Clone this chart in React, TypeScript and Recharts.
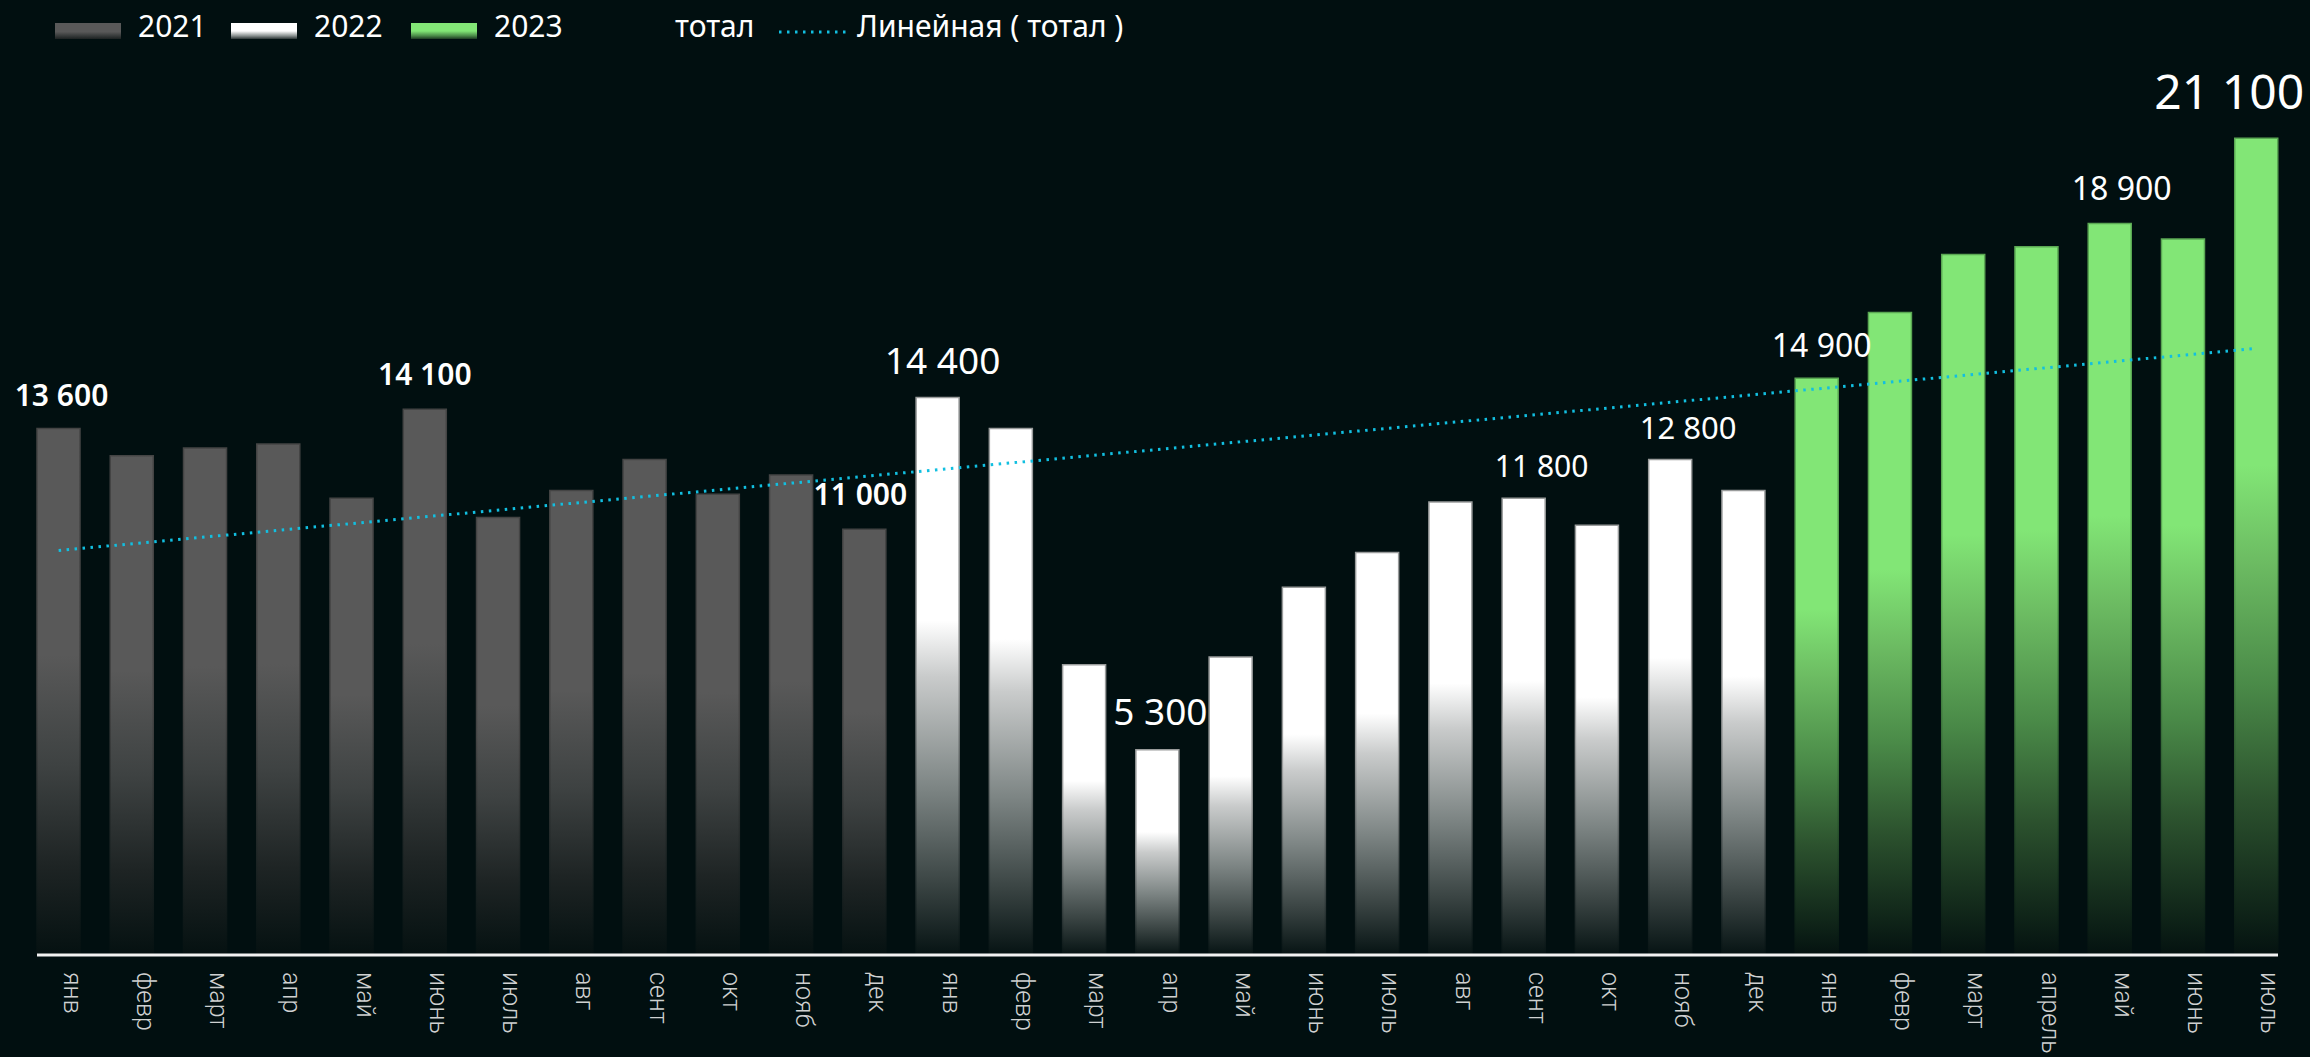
import React from 'react'
import { BarChart, Bar, XAxis, YAxis, ReferenceLine, LabelList } from 'recharts'

// monthly totals 2021–2023

const months2021 = ['янв', 'февр', 'март', 'апр', 'май', 'июнь', 'июль', 'авг', 'сент', 'окт', 'нояб', 'дек']
const months2022 = ['янв', 'февр', 'март', 'апр', 'май', 'июнь', 'июль', 'авг', 'сент', 'окт', 'нояб', 'дек']
const months2023 = ['янв', 'февр', 'март', 'апрель', 'май', 'июнь', 'июль']

const values2021 = [13600, 12900, 13100, 13200, 11800, 14100, 11300, 12000, 12800, 11900, 12400, 11000]
const values2022 = [14400, 13600, 7500, 5300, 7700, 9500, 10400, 11700, 11800, 11100, 12800, 12000]
const values2023 = [14900, 16600, 18100, 18300, 18900, 18500, 21100]

// linear trend of "тотал", value at the first and the last month
const trendValues = [10450, 15670]

type SeriesKey = 'v2021' | 'v2022' | 'v2023'
type Row = { key: string; month: string; v2021: number | null; v2022: number | null; v2023: number | null }

const rows: Row[] = [
  ...months2021.map((m, i) => ({ key: `2021-${i}`, month: m, v2021: values2021[i], v2022: null, v2023: null })),
  ...months2022.map((m, i) => ({ key: `2022-${i}`, month: m, v2021: null, v2022: values2022[i], v2023: null })),
  ...months2023.map((m, i) => ({ key: `2023-${i}`, month: m, v2021: null, v2022: null, v2023: values2023[i] })),
]

const monthByKey = new Map(rows.map((r) => [r.key, r.month]))

// first row of each series (label indices may come relative to the series)
const seriesStart: Record<SeriesKey, number> = {
  v2021: 0,
  v2022: values2021.length,
  v2023: values2021.length + values2022.length,
}

// which bars carry a value label, and how it is drawn
const labelStyles: Record<number, { size: number; weight: number; dx: number; gap: number }> = {
  0: { size: 30, weight: 600, dx: 3, gap: 23 },
  5: { size: 30, weight: 600, dx: 0, gap: 24 },
  11: { size: 30, weight: 600, dx: -4, gap: 24 },
  12: { size: 37, weight: 400, dx: 5, gap: 24 },
  15: { size: 37, weight: 400, dx: 3, gap: 25 },
  20: { size: 30, weight: 400, dx: 18, gap: 21 },
  22: { size: 31, weight: 400, dx: 18, gap: 21 },
  24: { size: 32, weight: 400, dx: 5, gap: 21 },
  28: { size: 32, weight: 400, dx: 12, gap: 23 },
  30: { size: 48, weight: 400, dx: -27, gap: 29 },
}

const BG = '#010f10'
const FONT = "'Noto Sans', 'Open Sans', sans-serif"

function formatValue(v: number): string {
  return String(v).replace(/\B(?=(\d{3})+(?!\d))/g, ' ')
}

const makeLabel = (seriesKey: SeriesKey) => (props: any) => {
  const { x, y, width, index } = props
  const gi = rows[index]?.[seriesKey] != null ? index : index + seriesStart[seriesKey]
  const row = rows[gi]
  const st = labelStyles[gi]
  if (!row || !st || row[seriesKey] == null) return null
  return (
    <text
      x={Number(x) + Number(width) / 2 + st.dx}
      y={Number(y) - st.gap}
      textAnchor="middle"
      fill="#ffffff"
      fontSize={st.size}
      fontWeight={st.weight}
      fontFamily={FONT}
    >
      {formatValue(row[seriesKey] as number)}
    </text>
  )
}

function MonthTick(props: any) {
  const { x, y, payload } = props
  const label = monthByKey.get(payload?.value) ?? ''
  return (
    <text
      transform={`translate(${x},${y + 9}) rotate(90)`}
      dy={-5}
      textAnchor="start"
      fill="#cfd1d1"
      fontSize={25}
      fontWeight={300}
      fontFamily="Roboto, 'Noto Sans', sans-serif"
    >
      {label}
    </text>
  )
}

function Swatch({ left, gradient }: { left: number; gradient: string }) {
  return (
    <div
      style={{ position: 'absolute', left, top: 23, width: 66, height: 16, background: gradient }}
    />
  )
}

function LegendText({ left, children }: { left: number; children: React.ReactNode }) {
  return (
    <div
      style={{
        position: 'absolute',
        left,
        top: 11,
        fontFamily: FONT,
        fontSize: 30,
        lineHeight: '30px',
        color: '#ffffff',
        whiteSpace: 'nowrap',
      }}
    >
      {children}
    </div>
  )
}

function TopLegend() {
  return (
    <div style={{ position: 'absolute', left: 0, top: 0, width: 1200, height: 60, zIndex: 2 }}>
      <Swatch left={55} gradient="linear-gradient(#595959 0%, #595959 55%, #1c2222 100%)" />
      <LegendText left={138}>2021</LegendText>
      <Swatch left={231} gradient="linear-gradient(#ffffff 0%, #ffffff 50%, #8a9190 80%, #2c3535 100%)" />
      <LegendText left={314}>2022</LegendText>
      <Swatch left={411} gradient="linear-gradient(#82e676 0%, #82e676 50%, #4a8a48 80%, #1d3a22 100%)" />
      <LegendText left={494}>2023</LegendText>
      <LegendText left={675}>тотал</LegendText>
      <svg style={{ position: 'absolute', left: 779, top: 28 }} width={70} height={8}>
        <line x1={0} y1={4} x2={70} y2={4} stroke="#12bfe0" strokeWidth={3} strokeDasharray="2.5 5.5" />
      </svg>
      <LegendText left={857}>Линейная ( тотал )</LegendText>
    </div>
  )
}

export default function App() {
  const first = rows[0].key
  const last = rows[rows.length - 1].key
  return (
    <div
      style={{
        position: 'fixed',
        left: 0,
        top: 0,
        width: 2310,
        height: 1057,
        background: BG,
        overflow: 'hidden',
      }}
    >
      <TopLegend />
      <div style={{ position: 'absolute', left: 0, top: 0 }}>
        <BarChart
          width={2310}
          height={1057}
          data={rows}
          margin={{ top: 26, right: 32, bottom: 0, left: 37 }}
        >
          <defs>
            <linearGradient id="g2021" x1="0" y1="0" x2="0" y2="1">
              <stop offset="0" stopColor="#595959" />
              <stop offset="0.43" stopColor="#595959" />
              <stop offset="0.64" stopColor="#3e4242" />
              <stop offset="0.83" stopColor="#1e2424" />
              <stop offset="1" stopColor="#051111" />
            </linearGradient>
            <linearGradient id="g2022" x1="0" y1="0" x2="0" y2="1">
              <stop offset="0" stopColor="#ffffff" />
              <stop offset="0.4" stopColor="#ffffff" />
              <stop offset="0.5" stopColor="#c9cbcb" />
              <stop offset="0.7" stopColor="#7d8584" />
              <stop offset="0.87" stopColor="#3b4544" />
              <stop offset="1" stopColor="#061313" />
            </linearGradient>
            <linearGradient id="g2023" x1="0" y1="0" x2="0" y2="1">
              <stop offset="0" stopColor="#82e676" />
              <stop offset="0.4" stopColor="#82e676" />
              <stop offset="0.52" stopColor="#6cbb62" />
              <stop offset="0.67" stopColor="#4a8a48" />
              <stop offset="0.81" stopColor="#2c522e" />
              <stop offset="1" stopColor="#041210" />
            </linearGradient>
            <linearGradient id="s2021" x1="0" y1="0" x2="0" y2="1">
              <stop offset="0" stopColor="#444444" />
              <stop offset="0.5" stopColor="#444444" />
              <stop offset="1" stopColor="#051111" />
            </linearGradient>
            <linearGradient id="s2022" x1="0" y1="0" x2="0" y2="1">
              <stop offset="0" stopColor="#9a9c9c" />
              <stop offset="0.5" stopColor="#9a9c9c" />
              <stop offset="1" stopColor="#061313" />
            </linearGradient>
            <linearGradient id="s2023" x1="0" y1="0" x2="0" y2="1">
              <stop offset="0" stopColor="#5aa853" />
              <stop offset="0.5" stopColor="#5aa853" />
              <stop offset="1" stopColor="#041210" />
            </linearGradient>
          </defs>
          <XAxis
            dataKey="key"
            height={102}
            interval={0}
            padding={{ left: -15, right: -15 }}
            axisLine={{ stroke: '#f2f2f2', strokeWidth: 3 }}
            tickLine={false}
            tick={<MonthTick />}
          />
          <YAxis hide domain={[0, 24000]} />
          <Bar dataKey="v2021" stackId="m" barSize={43} fill="url(#g2021)" stroke="url(#s2021)" strokeWidth={1.5} isAnimationActive={false}>
            <LabelList content={makeLabel('v2021')} />
          </Bar>
          <Bar dataKey="v2022" stackId="m" barSize={43} fill="url(#g2022)" stroke="url(#s2022)" strokeWidth={1.5} isAnimationActive={false}>
            <LabelList content={makeLabel('v2022')} />
          </Bar>
          <Bar dataKey="v2023" stackId="m" barSize={43} fill="url(#g2023)" stroke="url(#s2023)" strokeWidth={1.5} isAnimationActive={false}>
            <LabelList content={makeLabel('v2023')} />
          </Bar>
          <ReferenceLine
            segment={[
              { x: first, y: trendValues[0] },
              { x: last, y: trendValues[1] },
            ]}
            stroke="#12bfe0"
            strokeWidth={3}
            strokeDasharray="2.5 5.5"
          />
        </BarChart>
      </div>
    </div>
  )
}
